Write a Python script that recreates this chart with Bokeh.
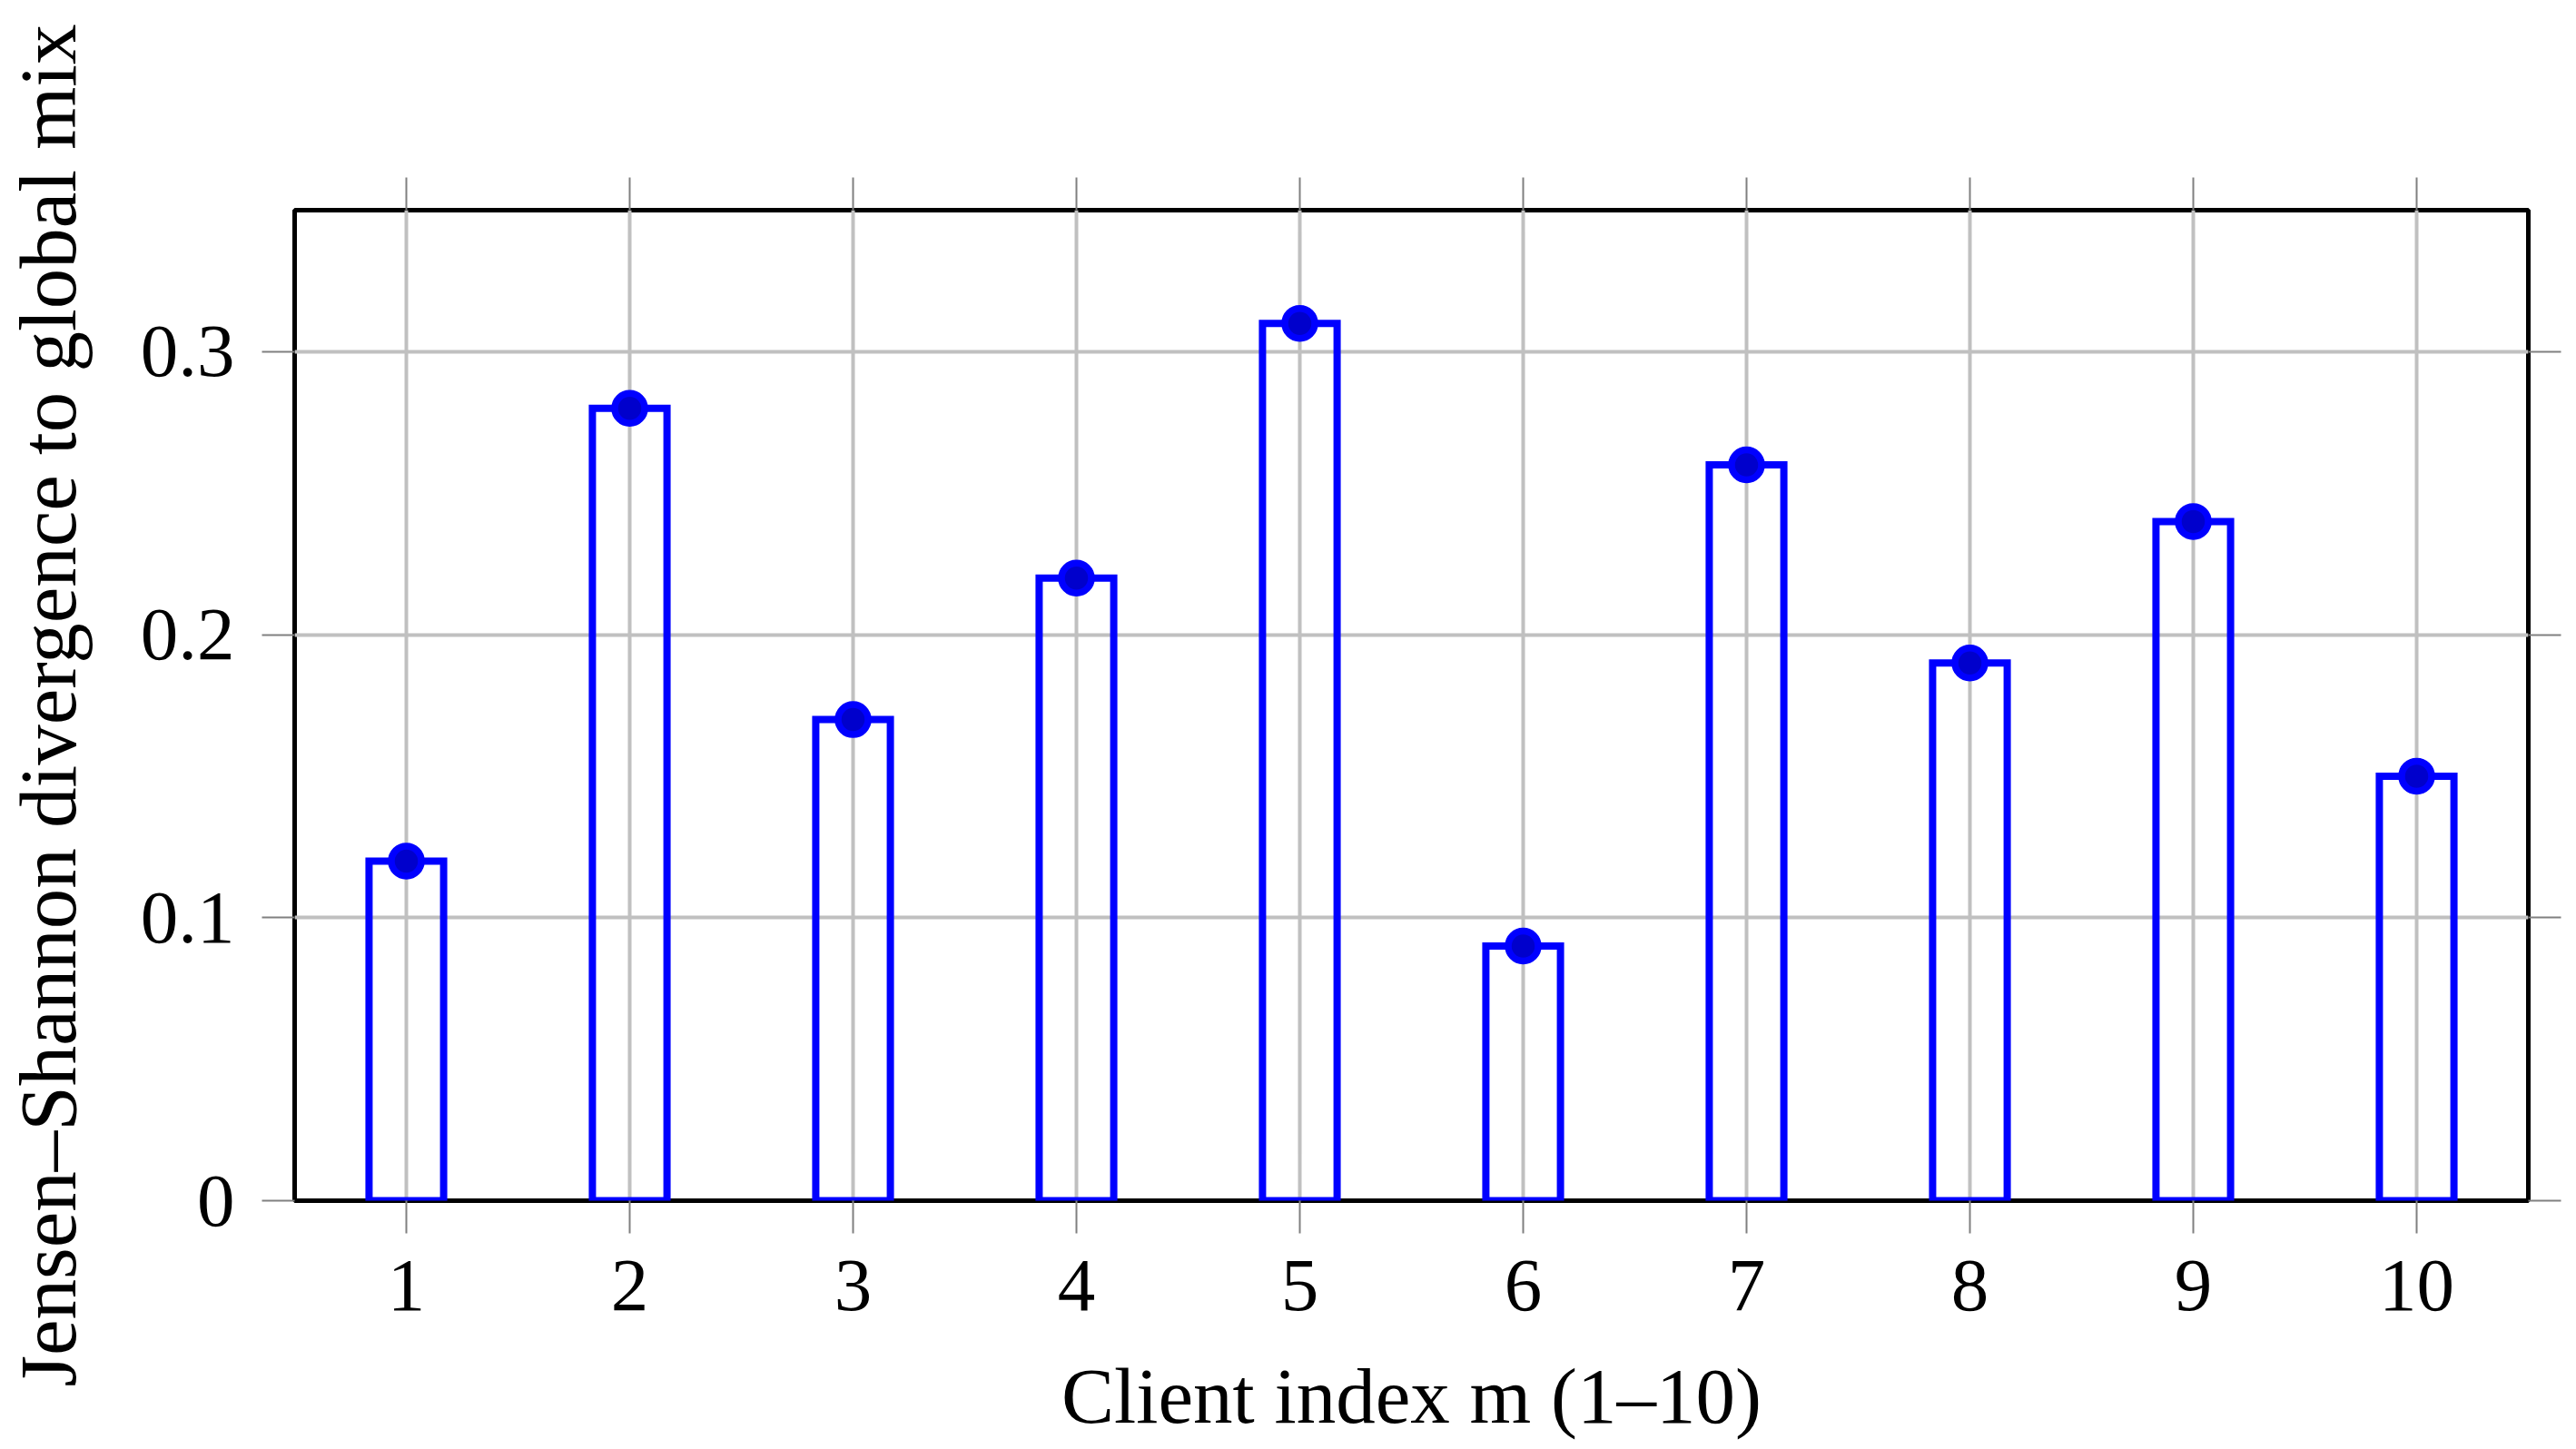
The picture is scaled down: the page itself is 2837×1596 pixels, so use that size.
from bokeh.plotting import figure
from bokeh.models import Range1d, FixedTicker, LinearAxis
from bokeh.embed import file_html
from bokeh.resources import INLINE

# ---------------- data ----------------
clients = [1, 2, 3, 4, 5, 6, 7, 8, 9, 10]
divergence = [0.12, 0.28, 0.17, 0.22, 0.31, 0.09, 0.26, 0.19, 0.24, 0.15]
x_ticks = [1, 2, 3, 4, 5, 6, 7, 8, 9, 10]
y_ticks = [0, 0.1, 0.2, 0.3]
y_tick_labels = ["0", "0.1", "0.2", "0.3"]
x_label = "Client index m (1\u201310)"
y_label = "Jensen\u2013Shannon divergence to global mix"

# ---------------- style ----------------
FONT = "Liberation Serif"
TICK_FONT_SIZE = "83px"
BAR_COLOR = "#0000ff"
MARK_FILL = "#0000cc"
GRID_COLOR = "#c0c0c0"
TICK_COLOR = "#808080"

p = figure(
    width=2821, height=1590,
    x_range=Range1d(0.5, 10.5), y_range=Range1d(0, 0.35),
    output_backend="svg", toolbar_location=None,
    min_border_left=323, min_border_right=37,
    min_border_top=231, min_border_bottom=268,
)
p.background_fill_color = "white"
p.border_fill_color = "white"
p.outline_line_color = "black"
p.outline_line_width = 5


def style_axis(ax, ticks, show_labels, standoff=20):
    ax.ticker = FixedTicker(ticks=ticks)
    ax.axis_line_color = None
    ax.major_tick_out = 36
    ax.major_tick_in = 0
    ax.major_tick_line_color = TICK_COLOR
    ax.major_tick_line_width = 2
    ax.minor_tick_line_color = None
    ax.major_label_text_font = FONT
    ax.major_label_text_color = "black"
    ax.major_label_text_font_size = TICK_FONT_SIZE
    ax.axis_label_text_font = FONT
    ax.axis_label_text_font_style = "normal"
    ax.axis_label_text_color = "black"
    if show_labels:
        ax.major_label_standoff = standoff
    else:
        ax.major_label_overrides = {t: "" for t in ticks}
        ax.major_label_standoff = 0


xa = p.xaxis[0]
ya = p.yaxis[0]
style_axis(xa, x_ticks, True, standoff=30)
style_axis(ya, y_ticks, True, standoff=30)
ya.major_label_overrides = {t: s for t, s in zip(y_ticks, y_tick_labels)}
xa.axis_label = x_label
xa.axis_label_text_font_size = "87px"
xa.axis_label_standoff = 43
ya.axis_label = y_label
ya.axis_label_text_font_size = "89px"
ya.axis_label_standoff = 50

top_axis = LinearAxis()
right_axis = LinearAxis()
style_axis(top_axis, x_ticks, False)
style_axis(right_axis, y_ticks, False)
p.add_layout(top_axis, "above")
p.add_layout(right_axis, "right")

p.xgrid.ticker = FixedTicker(ticks=x_ticks)
p.ygrid.ticker = FixedTicker(ticks=y_ticks)
for g in (p.xgrid, p.ygrid):
    g.grid_line_color = GRID_COLOR
    g.grid_line_width = 4

# bars (outline only) and markers
p.vbar(x=clients, top=divergence, bottom=0, width=0.334,
       fill_color=None, line_color=BAR_COLOR, line_width=8, line_join="miter")
p.scatter(x=clients, y=divergence, marker="circle", size=33,
          fill_color=MARK_FILL, line_color=BAR_COLOR, line_width=7.5)

open("out.html", "w").write(file_html(p, INLINE))
